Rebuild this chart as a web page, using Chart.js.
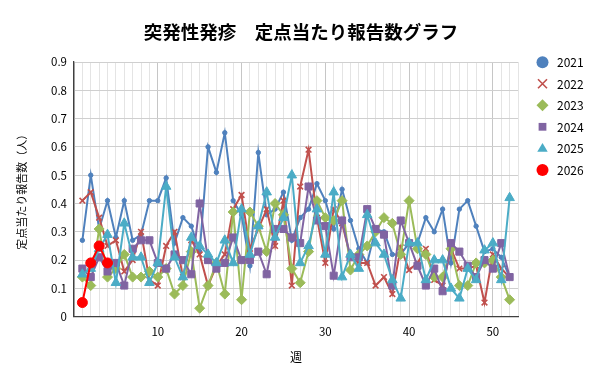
<!DOCTYPE html>
<html>
<head>
<meta charset="utf-8">
<script src="https://cdn.jsdelivr.net/npm/chart.js@4.4.1/dist/chart.umd.min.js"></script>
<style>
html,body{margin:0;padding:0;background:#fff;}
#wrap{width:600px;height:384px;position:relative;}
</style>
</head>
<body>
<div id="wrap"><canvas id="c" width="600" height="384"></canvas></div>
<script>
const chartTitle = "突発性発疹　定点当たり報告数グラフ";
const xTitle = "週";
const yTitle = "定点当たり報告数（人）";
const weeks = [1,2,3,4,5,6,7,8,9,10,11,12,13,14,15,16,17,18,19,20,21,22,23,24,25,26,27,28,29,30,31,32,33,34,35,36,37,38,39,40,41,42,43,44,45,46,47,48,49,50,51,52];
const seriesNames = ["2021","2022","2023","2024","2025","2026"];
const y2021 = [0.27,0.50,0.31,0.41,0.28,0.41,0.27,0.29,0.41,0.41,0.49,0.26,0.35,0.32,0.23,0.60,0.51,0.65,0.41,0.36,0.18,0.58,0.36,0.38,0.44,0.27,0.35,0.38,0.47,0.41,0.31,0.45,0.34,0.24,0.19,0.31,0.30,0.22,0.22,0.26,0.26,0.35,0.30,0.38,0.19,0.38,0.41,0.32,0.23,0.24,0.21,0.14];
const y2022 = [0.41,0.44,0.35,0.25,0.27,0.16,0.20,0.30,0.13,0.11,0.25,0.30,0.14,0.27,0.22,0.11,0.18,0.22,0.38,0.43,0.24,0.31,0.38,0.25,0.41,0.11,0.46,0.59,0.35,0.19,0.38,0.33,0.21,0.19,0.19,0.11,0.14,0.08,0.245,0.165,0.19,0.24,0.13,0.11,0.24,0.17,0.17,0.18,0.05,0.22,0.17,0.14];
const y2023 = [0.14,0.11,0.31,0.14,0.17,0.22,0.14,0.14,0.16,0.14,0.17,0.08,0.11,0.23,0.03,0.11,0.19,0.08,0.37,0.06,0.37,0.32,0.23,0.40,0.36,0.17,0.12,0.23,0.41,0.35,0.34,0.41,0.165,0.22,0.25,0.30,0.35,0.33,0.22,0.41,0.24,0.22,0.14,0.14,0.24,0.11,0.11,0.19,0.19,0.20,0.14,0.06];
const y2024 = [0.17,0.14,0.21,0.16,0.19,0.11,0.24,0.27,0.27,0.19,0.17,0.22,0.20,0.15,0.40,0.20,0.17,0.19,0.28,0.20,0.20,0.23,0.15,0.31,0.31,0.28,0.26,0.46,0.34,0.32,0.145,0.34,0.21,0.21,0.38,0.31,0.29,0.11,0.34,0.26,0.18,0.11,0.17,0.09,0.26,0.23,0.18,0.14,0.20,0.17,0.26,0.14];
const y2025 = [0.15,0.17,0.24,0.29,0.12,0.33,0.21,0.21,0.12,0.19,0.46,0.21,0.14,0.28,0.25,0.22,0.19,0.27,0.19,0.38,0.22,0.32,0.44,0.28,0.35,0.50,0.19,0.25,0.38,0.22,0.44,0.14,0.22,0.17,0.36,0.26,0.22,0.13,0.065,0.26,0.26,0.13,0.20,0.20,0.10,0.065,0.17,0.13,0.235,0.26,0.13,0.42];
const y2026 = [0.05,0.19,0.25,0.19];
const yTicks = [0,0.1,0.2,0.3,0.4,0.5,0.6,0.7,0.8,0.9];

const seriesValues = [y2021,y2022,y2023,y2024,y2025,y2026];
const colors = ["#4F81BD","#C0504D","#9BBB59","#8064A2","#4BACC6","#FF0000"];
const pStyles = ["circle","crossRot","rectRot","rect","triangle","circle"];
const pRadius = [2.2,4,5,5,5.5,5];
const legendRadius = [6,4.5,6,5.5,5.5,6];

const FONT = "'Noto Sans CJK JP','Noto Sans',sans-serif";

const datasets = seriesValues.map((vals,i)=>({
  label: seriesNames[i],
  data: vals.map((v,k)=>({x: weeks[k], y: v})),
  borderColor: colors[i],
  backgroundColor: colors[i],
  borderWidth: 2,
  pointStyle: pStyles[i],
  pointRadius: pRadius[i],
  pointBorderWidth: i===1 ? 1.6 : 1,
  pointBorderColor: colors[i],
  pointBackgroundColor: colors[i],
  tension: 0,
  order: seriesValues.length - 1 - i
}));

function drawMarker(ctx, style, x, y, r, color){
  ctx.save();
  ctx.fillStyle = color; ctx.strokeStyle = color; ctx.lineWidth = style==='crossRot'?1.6:1;
  ctx.beginPath();
  if(style==='circle'){ ctx.arc(x,y,r,0,Math.PI*2); ctx.fill(); }
  else if(style==='crossRot'){ ctx.moveTo(x-r,y-r);ctx.lineTo(x+r,y+r);ctx.moveTo(x+r,y-r);ctx.lineTo(x-r,y+r);ctx.stroke(); }
  else if(style==='rectRot'){ ctx.moveTo(x,y-r);ctx.lineTo(x+r,y);ctx.lineTo(x,y+r);ctx.lineTo(x-r,y);ctx.closePath();ctx.fill(); }
  else if(style==='rect'){ const s=r*Math.SQRT1_2; ctx.rect(x-s,y-s,2*s,2*s); ctx.fill(); }
  else if(style==='triangle'){ ctx.moveTo(x,y-r);ctx.lineTo(x+r*0.95,y+r*0.6);ctx.lineTo(x-r*0.95,y+r*0.6);ctx.closePath();ctx.fill(); }
  ctx.restore();
}

const decor = {
  id: 'decor',
  beforeDraw(chart){
    const ctx = chart.ctx;
    ctx.save(); ctx.fillStyle='#fff'; ctx.fillRect(0,0,chart.width,chart.height); ctx.restore();
  },
  afterDraw(chart){
    const ctx = chart.ctx;
    ctx.save();
    ctx.fillStyle = '#000';
    ctx.font = "bold 18.5px " + FONT;
    ctx.textAlign = 'center'; ctx.textBaseline = 'middle';
    ctx.fillText(chartTitle, 301, 32);
    ctx.font = "12px " + FONT;
    ctx.textAlign = 'left';
    const ys = [62.3,83.7,105.2,126.8,148.4,170];
    seriesNames.forEach((n,i)=>{
      drawMarker(ctx, pStyles[i], 542.5, ys[i], legendRadius[i], colors[i]);
      ctx.fillStyle = '#000';
      ctx.fillText(n, 557, ys[i]+0.5);
    });
    ctx.restore();
  }
};

new Chart(document.getElementById('c'), {
  type: 'line',
  data: { datasets },
  options: {
    responsive: false,
    animation: false,
    devicePixelRatio: 1,
    layout: { padding: { top: 62, right: 82, left: 0, bottom: 0 } },
    plugins: { legend: { display: false }, title: { display: false }, tooltip: { enabled: false } },
    scales: {
      x: {
        type: 'linear',
        min: 0, max: 53,
        afterFit(s){ s.height = 67.3; },
        ticks: {
          stepSize: 1, autoSkip: false, maxRotation: 0, padding: 8,
          color: '#000', font: { size: 11.5, family: FONT },
          callback: v => (v % 10 === 0 && v > 0) ? String(v) : ''
        },
        grid: {
          drawTicks: false,
          color: c => (c.tick && c.tick.value % 10 === 0) ? '#C6C6C6' : '#E4E4E4',
          lineWidth: 1
        },
        border: { display: true, color: '#404040', width: 1.3 },
        title: { display: true, text: xTitle, color: '#000', font: { size: 12, family: FONT }, padding: { bottom: 19.5, top: 0 } }
      },
      y: {
        min: 0, max: 0.9,
        afterFit(s){ s.width = 74; },
        afterBuildTicks(s){ s.ticks = yTicks.map(v=>({value:v})); },
        ticks: {
          stepSize: 0.1, padding: 7, color: '#000', font: { size: 11.5, family: FONT },
          callback: v => v === 0 ? '0' : Number(v).toFixed(1)
        },
        grid: { drawTicks: false, color: '#CFCFCF', lineWidth: 1 },
        border: { display: true, color: '#404040', width: 1.3 },
        title: { display: true, text: yTitle, color: '#000', font: { size: 11, family: FONT }, padding: { top: 15.5, bottom: 0 } }
      }
    }
  },
  plugins: [decor]
});
</script>
</body>
</html>
